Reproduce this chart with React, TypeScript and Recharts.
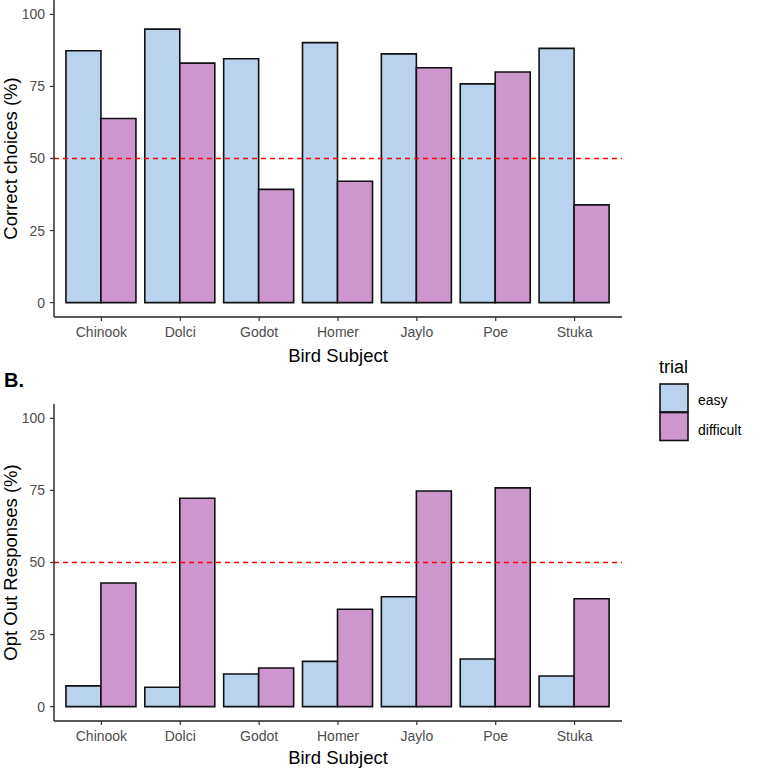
import React from "react";
import {
  BarChart,
  Bar,
  XAxis,
  YAxis,
  ReferenceLine,
} from "recharts";

const birds = ["Chinook", "Dolci", "Godot", "Homer", "Jaylo", "Poe", "Stuka"];
const correctEasy = [87.4, 94.9, 84.6, 90.2, 86.3, 75.9, 88.2];
const correctDifficult = [63.9, 83.1, 39.3, 42.1, 81.5, 80.0, 33.9];
const optOutEasy = [7.2, 6.7, 11.3, 15.7, 38.1, 16.5, 10.6];
const optOutDifficult = [42.9, 72.3, 13.4, 33.8, 74.8, 75.9, 37.4];
const yTicks = [0, 25, 50, 75, 100];
const trials = ["easy", "difficult"];

const EASY = "#B9D3EE";
const DIFFICULT = "#CD96CD";
const FONT = "'Liberation Sans', Arial, sans-serif";

const correctData = birds.map((bird, i) => ({
  bird,
  easy: correctEasy[i],
  difficult: correctDifficult[i],
}));
const optOutData = birds.map((bird, i) => ({
  bird,
  easy: optOutEasy[i],
  difficult: optOutDifficult[i],
}));

function Panel({ data, yTitle, height, top, xAxisHeight, xLabelOffset }) {
  return (
    <div style={{ position: "absolute", left: 0, top }}>
      <BarChart
        width={762}
        height={height}
        data={data}
        margin={{ top: top === 0 ? 0 : 19, right: 140, left: 14, bottom: 0 }}
        barCategoryGap="5%"
        barGap={0}
        style={{ fontFamily: FONT }}
      >
        <XAxis
          dataKey="bird"
          height={xAxisHeight}
          padding={{ left: 8, right: 8 }}
          axisLine={{ stroke: "#222", strokeWidth: 1.4 }}
          tickLine={{ stroke: "#333", strokeWidth: 1.2 }}
          tickSize={4}
          tickMargin={6}
          tick={{ fill: "#4D4D4D", fontSize: 14 }}
          label={{
            value: "Bird Subject",
            position: "insideBottom",
            offset: xLabelOffset,
            fill: "#000",
            fontSize: 18.5,
          }}
        />
        <YAxis
          width={40}
          domain={[-5, 105]}
          ticks={yTicks}
          allowDataOverflow
          axisLine={{ stroke: "#222", strokeWidth: 1.4 }}
          tickLine={{ stroke: "#333", strokeWidth: 1.2 }}
          tickSize={4}
          tickMargin={5}
          tick={{ fill: "#4D4D4D", fontSize: 14 }}
          label={{
            value: yTitle,
            angle: -90,
            position: "insideLeft",
            offset: -4,
            fill: "#000",
            fontSize: 18.5,
            style: { textAnchor: "middle" },
          }}
        />
        <Bar
          dataKey="easy"
          fill={EASY}
          stroke="#111"
          strokeWidth={1.6}
          isAnimationActive={false}
        />
        <Bar
          dataKey="difficult"
          fill={DIFFICULT}
          stroke="#111"
          strokeWidth={1.6}
          isAnimationActive={false}
        />
        <ReferenceLine
          y={50}
          stroke="#FF0000"
          strokeWidth={1.4}
          strokeDasharray="5 4"
        />
      </BarChart>
    </div>
  );
}

export default function App() {
  return (
    <div
      style={{
        position: "absolute",
        left: 0,
        top: 0,
        width: 762,
        height: 769,
        background: "#fff",
        fontFamily: FONT,
      }}
    >
      <Panel
        data={correctData}
        yTitle="Correct choices (%)"
        height={370}
        top={0}
        xAxisHeight={53}
        xLabelOffset={8}
      />
      <Panel
        data={optOutData}
        yTitle="Opt Out Responses (%)"
        height={384}
        top={385}
        xAxisHeight={48}
        xLabelOffset={5}
      />
      <svg
        width={762}
        height={769}
        style={{ position: "absolute", left: 0, top: 0, pointerEvents: "none" }}
      >
        <text x={4} y={387} fontSize={20} fontWeight="bold" fill="#000" fontFamily={FONT}>
          B.
        </text>
        <text x={659} y={373} fontSize={18} fill="#000" fontFamily={FONT}>
          trial
        </text>
        {trials.map((t, i) => (
          <g key={t}>
            <rect
              x={660}
              y={384 + i * 28.5}
              width={28}
              height={28}
              fill={i === 0 ? EASY : DIFFICULT}
              stroke="#111"
              strokeWidth={1.6}
            />
            <text x={698} y={405 + i * 29.5} fontSize={14} fill="#000" fontFamily={FONT}>
              {t}
            </text>
          </g>
        ))}
      </svg>
    </div>
  );
}
